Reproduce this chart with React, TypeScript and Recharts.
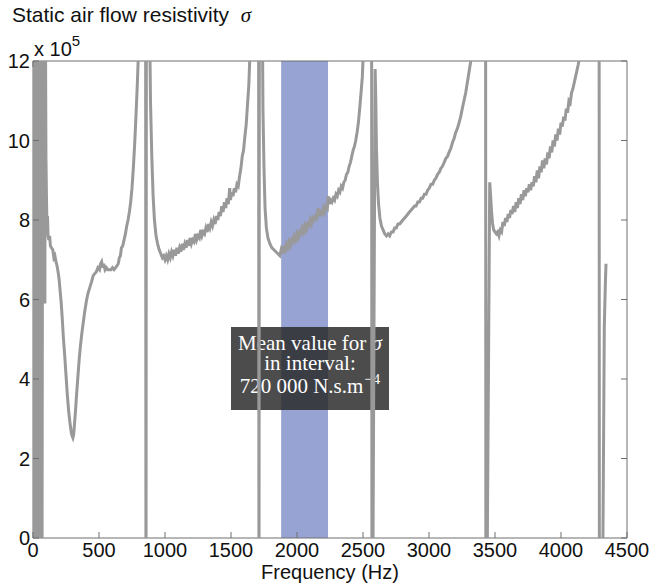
import React from 'react';
import { LineChart, Line, XAxis, YAxis, ReferenceArea, Label } from 'recharts';

// frequency (Hz) and static air flow resistivity (x 1e5 N.s.m^-4)
const freq = [
  0, 4, 8, 14, 22, 30, 38, 46, 54, 60, 66, 68, 74, 86, 90, 93, 98, 102, 106, 110,
  114, 120, 126, 132, 140, 150, 158, 166, 174, 182, 190, 198, 206, 214, 222, 230, 240, 250, 260, 270,
  280, 290, 296, 302, 308, 314, 322, 330, 340, 350, 360, 370, 380, 392, 404, 416, 430, 444, 456, 468,
  480, 492, 504, 512, 520, 528, 536, 546, 556, 566, 578, 590, 602, 614, 626, 636, 646, 654, 662, 670,
  680, 690, 700, 710, 720, 730, 740, 750, 760, 770, 780, 790, 800, 820, 852, 856, 860, 880, 890, 900,
  910, 920, 932, 944, 956, 968, 980, 990, 1000, 1010, 1020, 1030, 1040, 1050, 1060, 1070, 1080, 1090, 1100, 1110,
  1120, 1130, 1140, 1150, 1160, 1170, 1180, 1190, 1200, 1210, 1220, 1230, 1240, 1250, 1260, 1270, 1280, 1290, 1300, 1310,
  1320, 1330, 1340, 1350, 1360, 1370, 1380, 1390, 1400, 1410, 1420, 1430, 1440, 1450, 1460, 1470, 1480, 1490, 1496, 1505,
  1515, 1525, 1535, 1545, 1555, 1565, 1575, 1585, 1595, 1605, 1615, 1625, 1635, 1645, 1670, 1708, 1712, 1716, 1736, 1742,
  1750, 1758, 1768, 1780, 1795, 1810, 1825, 1840, 1855, 1870, 1880, 1890, 1900, 1910, 1920, 1930, 1940, 1950, 1960, 1970,
  1980, 1990, 2000, 2010, 2020, 2030, 2040, 2050, 2060, 2070, 2080, 2090, 2100, 2110, 2120, 2130, 2140, 2150, 2160, 2170,
  2180, 2190, 2200, 2210, 2220, 2230, 2236, 2245, 2255, 2265, 2275, 2285, 2295, 2305, 2315, 2325, 2335, 2345, 2355, 2365,
  2375, 2385, 2395, 2405, 2415, 2425, 2435, 2445, 2455, 2465, 2475, 2485, 2495, 2502, 2530, 2564, 2568, 2572, 2592, 2597,
  2602, 2610, 2618, 2628, 2640, 2652, 2665, 2678, 2690, 2702, 2715, 2728, 2740, 2752, 2765, 2778, 2790, 2802, 2815, 2828,
  2840, 2852, 2865, 2878, 2890, 2902, 2915, 2928, 2940, 2952, 2965, 2978, 2990, 3002, 3015, 3028, 3040, 3052, 3065, 3078,
  3090, 3102, 3115, 3128, 3140, 3152, 3165, 3178, 3190, 3202, 3215, 3228, 3240, 3252, 3265, 3278, 3290, 3302, 3314, 3322,
  3360, 3428, 3431, 3436, 3460, 3467, 3474, 3482, 3490, 3500, 3510, 3520, 3530, 3540, 3550, 3560, 3570, 3580, 3590, 3600,
  3610, 3620, 3630, 3640, 3650, 3660, 3670, 3680, 3690, 3700, 3710, 3720, 3730, 3740, 3750, 3760, 3770, 3780, 3790, 3800,
  3810, 3820, 3830, 3840, 3850, 3860, 3870, 3880, 3890, 3900, 3910, 3920, 3930, 3940, 3950, 3960, 3970, 3980, 3990, 4000,
  4010, 4020, 4030, 4040, 4050, 4060, 4070, 4080, 4090, 4100, 4110, 4120, 4130, 4140, 4170, 4288, 4291, 4312, 4328, 4336,
  4341,
];

const sigma = [
  14, 10.9, -2, 14, -2, 14, -2, 14, -2, 14, 10.1, -2, 14, 14, 5.9, 14, 9.6, 8.6, 7.8, 8.1,
  7.6, 7.5, 7.6, 7.35, 7.3, 7.25, 7.05, 7.1, 6.95, 6.85, 6.7, 6.5, 6.2, 5.9, 5.5, 5.05, 4.6, 4.1, 3.6, 3.2,
  2.9, 2.65, 2.57, 2.52, 2.6, 2.85, 3.2, 3.6, 4.05, 4.5, 4.85, 5.15, 5.4, 5.7, 5.95, 6.15, 6.3, 6.45, 6.6, 6.65,
  6.7, 6.8, 6.75, 6.9, 6.95, 6.8, 6.9, 6.75, 6.8, 6.75, 6.75, 6.75, 6.8, 6.75, 6.8, 6.85, 6.9, 7.05, 7.1, 7.3,
  7.35, 7.5, 7.65, 7.85, 8.0, 8.2, 8.45, 8.8, 9.3, 9.9, 10.6, 11.4, 12.3, 16, 20, -3, 20, 14, 11.0, 9.6,
  8.6, 8.0, 7.6, 7.4, 7.25, 7.15, 7.05, 7.1, 7.0, 7.1, 7.0, 7.15, 7.05, 7.2, 7.1, 7.25, 7.1, 7.3, 7.15, 7.3,
  7.2, 7.4, 7.25, 7.4, 7.3, 7.5, 7.35, 7.55, 7.4, 7.5, 7.45, 7.65, 7.5, 7.6, 7.55, 7.75, 7.6, 7.7, 7.65, 7.8,
  7.7, 7.9, 7.8, 7.95, 7.85, 8.0, 7.9, 8.1, 8.0, 8.2, 8.1, 8.35, 8.2, 8.45, 8.3, 8.55, 8.4, 8.8, 8.5, 8.7,
  8.6, 8.8, 8.7, 8.9, 8.85, 9.1, 9.3, 9.6, 9.75, 10.1, 10.4, 10.9, 11.4, 12.3, 16, 20, -3, 20, 14, 10.8,
  9.3, 8.3, 7.8, 7.55, 7.4, 7.3, 7.25, 7.2, 7.15, 7.1, 7.25, 7.15, 7.35, 7.25, 7.4, 7.3, 7.45, 7.35, 7.5, 7.45,
  7.6, 7.5, 7.65, 7.55, 7.7, 7.65, 7.8, 7.7, 7.85, 7.75, 7.9, 7.85, 8.0, 7.9, 8.05, 8.0, 8.1, 8.05, 8.3, 8.1,
  8.2, 8.15, 8.3, 8.2, 8.35, 8.3, 8.6, 8.4, 8.5, 8.45, 8.55, 8.5, 8.65, 8.6, 8.75, 8.7, 8.85, 8.8, 8.95, 9.0,
  9.15, 9.2, 9.35, 9.45, 9.6, 9.75, 9.85, 10.0, 10.2, 10.45, 10.8, 11.2, 11.6, 12.2, 18, 20, -3, -3, 11.8, 11.0,
  9.8, 8.9, 8.4, 8.05, 7.85, 7.75, 7.65, 7.6, 7.65, 7.6, 7.7, 7.7, 7.8, 7.8, 7.9, 7.9, 7.95, 8.0, 8.05, 8.1,
  8.15, 8.2, 8.25, 8.3, 8.35, 8.35, 8.45, 8.45, 8.55, 8.55, 8.65, 8.65, 8.75, 8.8, 8.9, 8.9, 9.0, 9.05, 9.15, 9.2,
  9.3, 9.35, 9.45, 9.55, 9.6, 9.7, 9.8, 9.95, 10.05, 10.2, 10.3, 10.45, 10.6, 10.8, 11.0, 11.2, 11.45, 11.7, 11.95, 12.3,
  18, 20, -3, -3, 8.95, 8.6, 8.2, 7.9, 7.75, 7.7, 7.65, 7.7, 7.6, 7.75, 7.7, 7.95, 7.85, 8.05, 7.95, 8.15,
  8.05, 8.25, 8.15, 8.35, 8.2, 8.45, 8.3, 8.55, 8.4, 8.65, 8.5, 8.75, 8.6, 8.8, 8.7, 8.9, 8.75, 8.95, 8.85, 9.1,
  8.95, 9.25, 9.05, 9.35, 9.2, 9.5, 9.3, 9.55, 9.4, 9.7, 9.55, 9.85, 9.7, 10.0, 9.85, 10.15, 10.0, 10.3, 10.15, 10.45,
  10.35, 10.6, 10.5, 10.8, 10.7, 11.0, 10.95, 11.2, 11.3, 11.45, 11.6, 11.75, 11.9, 12.1, 17, 20, -3, -3, 5.3, 6.4,
  6.9,
];

const xTicks = [0, 500, 1000, 1500, 2000, 2500, 3000, 3500, 4000, 4500];
const yTicks = [0, 2, 4, 6, 8, 10, 12];

// averaging interval and the annotation box position (data units)
const band = [1880, 2235];
const noteBox = { x1: 1500, x2: 2697, y1: 3.22, y2: 5.31 };

const data = freq.map((f, i) => ({ f, s: sigma[i] }));

const SANS = 'Liberation Sans, Arial, Helvetica, sans-serif';
const SERIF = 'Liberation Serif, Times New Roman, serif';
const AXIS = '#6e6e6e';
const TICK = 6;

// MATLAB-style ticks pointing into the plot box
const BottomTick = ({ x, y, payload }: any) => (
  <g>
    <line x1={x} x2={x} y1={y} y2={y - TICK} stroke={AXIS} />
    <text x={x} y={y + 5} dy="0.71em" textAnchor="middle" fill="#111" fontSize={20} fontFamily={SANS}>
      {payload.value}
    </text>
  </g>
);
const TopTick = ({ x, y }: any) => <line x1={x} x2={x} y1={y} y2={y + TICK} stroke={AXIS} />;
const LeftTick = ({ x, y, payload }: any) => (
  <g>
    <line x1={x} x2={x + TICK} y1={y} y2={y} stroke={AXIS} />
    <text x={x - 3} y={y} dy="0.355em" textAnchor="end" fill="#111" fontSize={20} fontFamily={SANS}>
      {payload.value}
    </text>
  </g>
);
const RightTick = ({ x, y }: any) => <line x1={x} x2={x - TICK} y1={y} y2={y} stroke={AXIS} />;

const NoteLabel = (props: any) => {
  const { x, y, width } = props.viewBox;
  const cx = x + width / 2;
  return (
    <text fill="#fff" fontFamily={SERIF} fontSize={21} textAnchor="middle">
      <tspan x={cx} y={y + 23}>{'Mean value for\u00a0'}</tspan>
      <tspan fontStyle="italic">σ</tspan>
      <tspan x={cx} y={y + 43}>in interval:</tspan>
      <tspan x={cx} y={y + 66}>720 000 N.s.m</tspan>
      <tspan dx={1} dy={-9} fontSize={15}>−4</tspan>
    </text>
  );
};

export default function App() {
  return (
    <div style={{ position: 'absolute', left: 0, top: 0, width: 652, height: 584, background: '#fff' }}>
      <div style={{ position: 'absolute', left: 12, top: 3, fontFamily: SANS, fontSize: 21, color: '#111', whiteSpace: 'pre' }}>
        Static air flow resistivity{'  '}
        <span style={{ fontFamily: SERIF, fontStyle: 'italic' }}>σ</span>
      </div>
      <div style={{ position: 'absolute', left: 34, top: 38, fontFamily: SANS, fontSize: 20, color: '#111', whiteSpace: 'pre' }}>
        x 10<span style={{ fontSize: 15, position: 'relative', top: -10 }}>5</span>
      </div>
      <LineChart width={652} height={584} data={data} margin={{ top: 60, right: 24, bottom: 2, left: 0 }}>
        <XAxis
          xAxisId="b"
          dataKey="f"
          type="number"
          domain={[0, 4500]}
          ticks={xTicks}
          interval={0}
          allowDataOverflow
          height={44}
          tickSize={0}
          tickMargin={0}
          tickLine={false}
          axisLine={false}
          tick={<BottomTick />}
        >
          <Label value="Frequency (Hz)" position="insideBottom" offset={3} fill="#111" fontSize={20} fontFamily={SANS} />
        </XAxis>
        <XAxis
          xAxisId="t"
          orientation="top"
          type="number"
          domain={[0, 4500]}
          ticks={xTicks}
          interval={0}
          allowDataOverflow
          height={1}
          tickSize={0}
          tickMargin={0}
          tickLine={false}
          axisLine={false}
          tick={<TopTick />}
        />
        <YAxis
          yAxisId="l"
          type="number"
          domain={[0, 12]}
          ticks={yTicks}
          interval={0}
          allowDataOverflow
          width={33}
          tickSize={0}
          tickMargin={0}
          tickLine={false}
          axisLine={false}
          tick={<LeftTick />}
        />
        <YAxis
          yAxisId="r"
          orientation="right"
          type="number"
          domain={[0, 12]}
          ticks={yTicks}
          interval={0}
          allowDataOverflow
          width={1}
          tickSize={0}
          tickMargin={0}
          tickLine={false}
          axisLine={false}
          tick={<RightTick />}
        />
        <Line
          xAxisId="b"
          yAxisId="l"
          dataKey="s"
          type="linear"
          stroke="#999"
          strokeWidth={3}
          dot={false}
          isAnimationActive={false}
        />
        <ReferenceArea
          xAxisId="b"
          yAxisId="l"
          x1={band[0]}
          x2={band[1]}
          fill="#485eb0"
          fillOpacity={0.57}
          stroke="none"
        />
        <ReferenceArea
          xAxisId="b"
          yAxisId="l"
          x1={noteBox.x1}
          x2={noteBox.x2}
          y1={noteBox.y1}
          y2={noteBox.y2}
          fill="#2a2a2a"
          fillOpacity={0.84}
          stroke="none"
          label={<NoteLabel />}
        />
        <ReferenceArea
          xAxisId="b"
          yAxisId="l"
          x1={xTicks[0]}
          x2={xTicks[xTicks.length - 1]}
          y1={yTicks[0]}
          y2={yTicks[yTicks.length - 1]}
          fill="none"
          stroke={AXIS}
          strokeWidth={1}
        />
      </LineChart>
    </div>
  );
}
